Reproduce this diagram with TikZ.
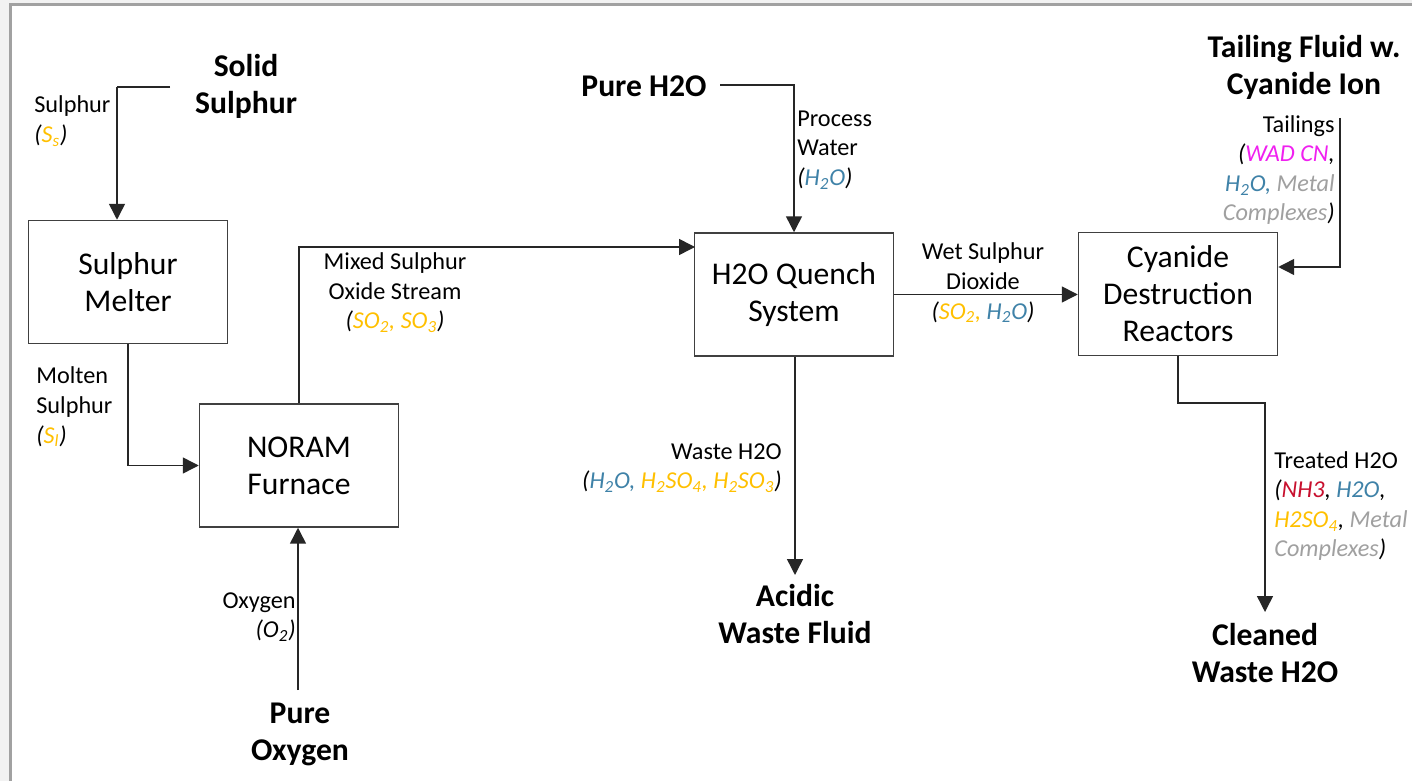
\documentclass[tikz,border=0pt]{standalone}
\usepackage{fontspec}
\setmainfont{Carlito}
\usetikzlibrary{arrows.meta,calc}
\definecolor{sgold}{HTML}{FFC000}
\definecolor{wblue}{HTML}{3F82A8}
\definecolor{cmag}{HTML}{F020F0}
\definecolor{nred}{HTML}{C8102E}
\definecolor{mgray}{HTML}{A0A0A0}
\definecolor{pagebg}{HTML}{F2F2F2}
\newcommand{\sul}[1]{\textcolor{sgold}{#1}}
\newcommand{\wat}[1]{\textcolor{wblue}{#1}}
\newcommand{\sub}[1]{\textsubscript{#1}}
\begin{document}
\begin{tikzpicture}[x=0.2mm,y=-0.2mm,line join=miter,
  unit/.style={draw=black!75,line width=0.85pt,fill=white,minimum width=39.8mm,
    minimum height=24.6mm,align=center,inner sep=0pt,font=\fontsize{18}{21}\selectfont},
  src/.style={align=center,inner sep=0pt,font=\fontsize{18}{21}\selectfont\bfseries},
  lbl/.style={inner sep=0pt,font=\fontsize{13.8}{16.8}\selectfont},
  flow/.style={draw=black!85,line width=0.85pt,-{Triangle[length=9pt,width=9pt]}},
  pipe/.style={draw=black!85,line width=0.85pt}]
 \useasboundingbox (0,0) rectangle (1412,781);
 \fill[pagebg] (0,0) rectangle (1412,781);
 \filldraw[fill=white,draw=black!37,line width=1.7pt] (10.5,5) rectangle (1430,800);

 % units
 \node[unit] (melter) at (128,282) {Sulphur\\Melter};
 \node[unit] (furnace) at (299,465.5) {NORAM\\Furnace};
 \node[unit] (quench) at (794,294.5) {H2O Quench\\System};
 \node[unit] (cyanide) at (1178,294) {Cyanide\\Destruction\\Reactors};

 % sources and sinks
 \node[src] (solid) at (246,86) {Solid\\Sulphur};
 \node[src] (oxygen) at (300,734) {Pure\\Oxygen};
 \node[src] (water) at (644,86) {Pure H2O};
 \node[src] (tailing) at (1304,67) {Tailing Fluid w.\\Cyanide Ion};
 \node[src] (acidic) at (795,614) {Acidic\\Waste Fluid};
 \node[src] (cleaned) at (1265,653) {Cleaned\\Waste H2O};

 % free ends
 \coordinate (solidout) at (170,87);
 \coordinate (s1) at (117,87);
 \coordinate (oxout) at (298,690);
 \coordinate (q1) at (695,247);
 \coordinate (waterout) at (720,85);
 \coordinate (tailout) at (1340,118);
 \coordinate (t1) at (1340,267);
 \coordinate (acidin) at (795,575);
 \coordinate (c1) at (1178,403);
 \coordinate (c2) at (1265,403);
 \coordinate (cleanin) at (1265,612);

 % streams
 \draw[pipe] (solidout) -- (s1);
 \draw[flow] (s1) -- (s1 |- melter.north);
 \draw[flow] (melter.south) |- (furnace.west);
 \draw[flow] (oxout) -- (oxout |- furnace.south);
 \draw[flow] (furnace.north) |- (q1);
 \draw[flow] (waterout) -| (quench.north);
 \draw[flow] (quench.east) -- (quench.east -| cyanide.west);
 \draw[flow] (tailout) -- (t1) -- (t1 -| cyanide.east);
 \draw[flow] (quench.south -| acidin) -- (acidin);
 \draw[flow] (cyanide.south) -- (c1) -- (c2) -- (cleanin);

 % stream labels
 \node[lbl,anchor=west,align=left] (lsul) at (34,121) {Sulphur\\\textit{(\sul{S\sub{s}})}};
 \node[lbl,anchor=west,align=left] (lmolten) at (36,407) {Molten\\Sulphur\\\textit{(\sul{S\sub{l}})}};
 \node[lbl,align=center] (lmixed) at (395,293) {Mixed Sulphur\\Oxide Stream\\\textit{(\sul{SO\sub{2}, SO\sub{3}})}};
 \node[lbl,anchor=east,align=right] (loxy) at (296,617) {Oxygen\\\textit{(O\sub{2})}};
 \node[lbl,anchor=west,align=left] (lproc) at (797,150) {Process\\Water\\\textit{(\wat{H\sub{2}O})}};
 \node[lbl,align=center] (lwet) at (983,283) {Wet Sulphur\\Dioxide\\\textit{(\sul{SO\sub{2},} \wat{H\sub{2}O})}};
 \node[lbl,anchor=east,align=right] (ltail) at (1335,170) {Tailings\\\textit{(\textcolor{cmag}{WAD CN},}\\\textit{\wat{H\sub{2}O,} \textcolor{mgray}{Metal}}\\\textit{\textcolor{mgray}{Complexes})}};
 \node[lbl,anchor=east,align=right] (lwaste) at (782,468) {Waste H2O\\\textit{(\wat{H\sub{2}O,} \sul{H\sub{2}SO\sub{4}, H\sub{2}SO\sub{3}})}};
 \node[lbl,anchor=west,align=left] (ltreat) at (1274,506) {Treated H2O\\\textit{(\textcolor{nred}{NH3}, \wat{H2O},}\\\textit{\sul{H2SO\sub{4}}, \textcolor{mgray}{Metal}}\\\textit{\textcolor{mgray}{Complexes})}};
\end{tikzpicture}
\end{document}
